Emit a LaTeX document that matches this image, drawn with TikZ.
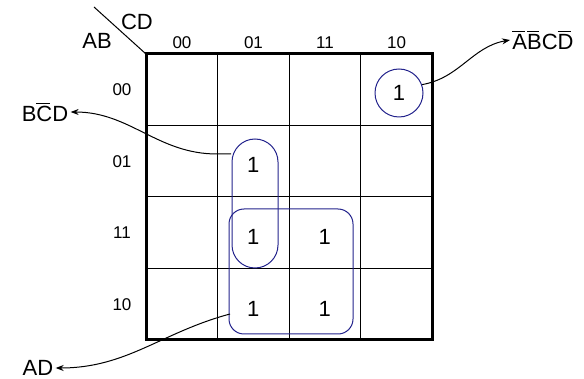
\documentclass[tikz,border=0pt]{standalone}
\usepackage{fontspec}
\setmainfont{Liberation Sans}
\usepackage{tikz}
\usetikzlibrary{arrows.meta}
\definecolor{grpblue}{RGB}{35, 35, 140}
\newcommand{\nb}[1]{$\overline{\mbox{#1}\mkern-2mu}\mkern2mu$}

\begin{document}
\begin{tikzpicture}[
  x=0.5pt,
  y=-0.5pt,
  font=\fontsize{11}{13}\selectfont,
  every node/.style={inner sep=1pt},
  hdr/.style={font=\fontsize{8.5}{10}\selectfont},
  grp/.style={draw=grpblue, line width=0.5pt},
  thin line/.style={line width=0.5pt},
  >={Stealth[length=4pt]}
]
\useasboundingbox (0,0) rectangle (584,379);

% map grid
\foreach \i in {1,2,3} {
  \draw[thin line] (146+71.5*\i, 54) -- (146+71.5*\i, 340);
  \draw[thin line] (146, 54+71.5*\i) -- (432, 54+71.5*\i);
}
\draw[line width=1.5pt] (146,54) rectangle (432,340);
\draw[thin line] (94,7) -- (146,54);

\node (cd) at (137,22) {CD};
\node (ab) at (97,41) {AB};

\foreach \t [count=\i from 0] in {00,01,11,10} {
  \node[hdr] (col\t) at (182+71.5*\i, 43) {\t};
  \node[hdr] (row\t) at (122, 90+71.5*\i) {\t};
}

% ones
\node[grp, circle, minimum size=24pt, inner sep=0pt] (gABCD) at (399,93) {1};
\node (m0101) at (253.25,165) {1};
\node (m1101) at (253.25,237) {1};
\node (m1111) at (324.75,237) {1};
\node (m1001) at (253.25,309) {1};
\node (m1011) at (324.75,309) {1};

% groups
\draw[grp, rounded corners=11.5pt] (232,139) rectangle (278,268);
\draw[grp, rounded corners=7.5pt] (229,209) rectangle (353,334);

% terms
\node (tABCD) at (543,40) {\nb{A}\nb{B}C\nb{D}};
\node (tBCD) at (45,112) {B\nb{C}D};
\node (tAD) at (38,368) {AD};

\coordinate (pBCD) at (231,154);
\coordinate (pAD) at (230,314);

\draw[thin line, ->] (gABCD.20) to[out=10, in=190] (tABCD.west);
\draw[thin line, ->] (pBCD) -- ++(-14,0) to[out=180, in=0] (tBCD.east);
\draw[thin line, ->] (pAD) to[out=195, in=0] (tAD.east);

\end{tikzpicture}
\end{document}
